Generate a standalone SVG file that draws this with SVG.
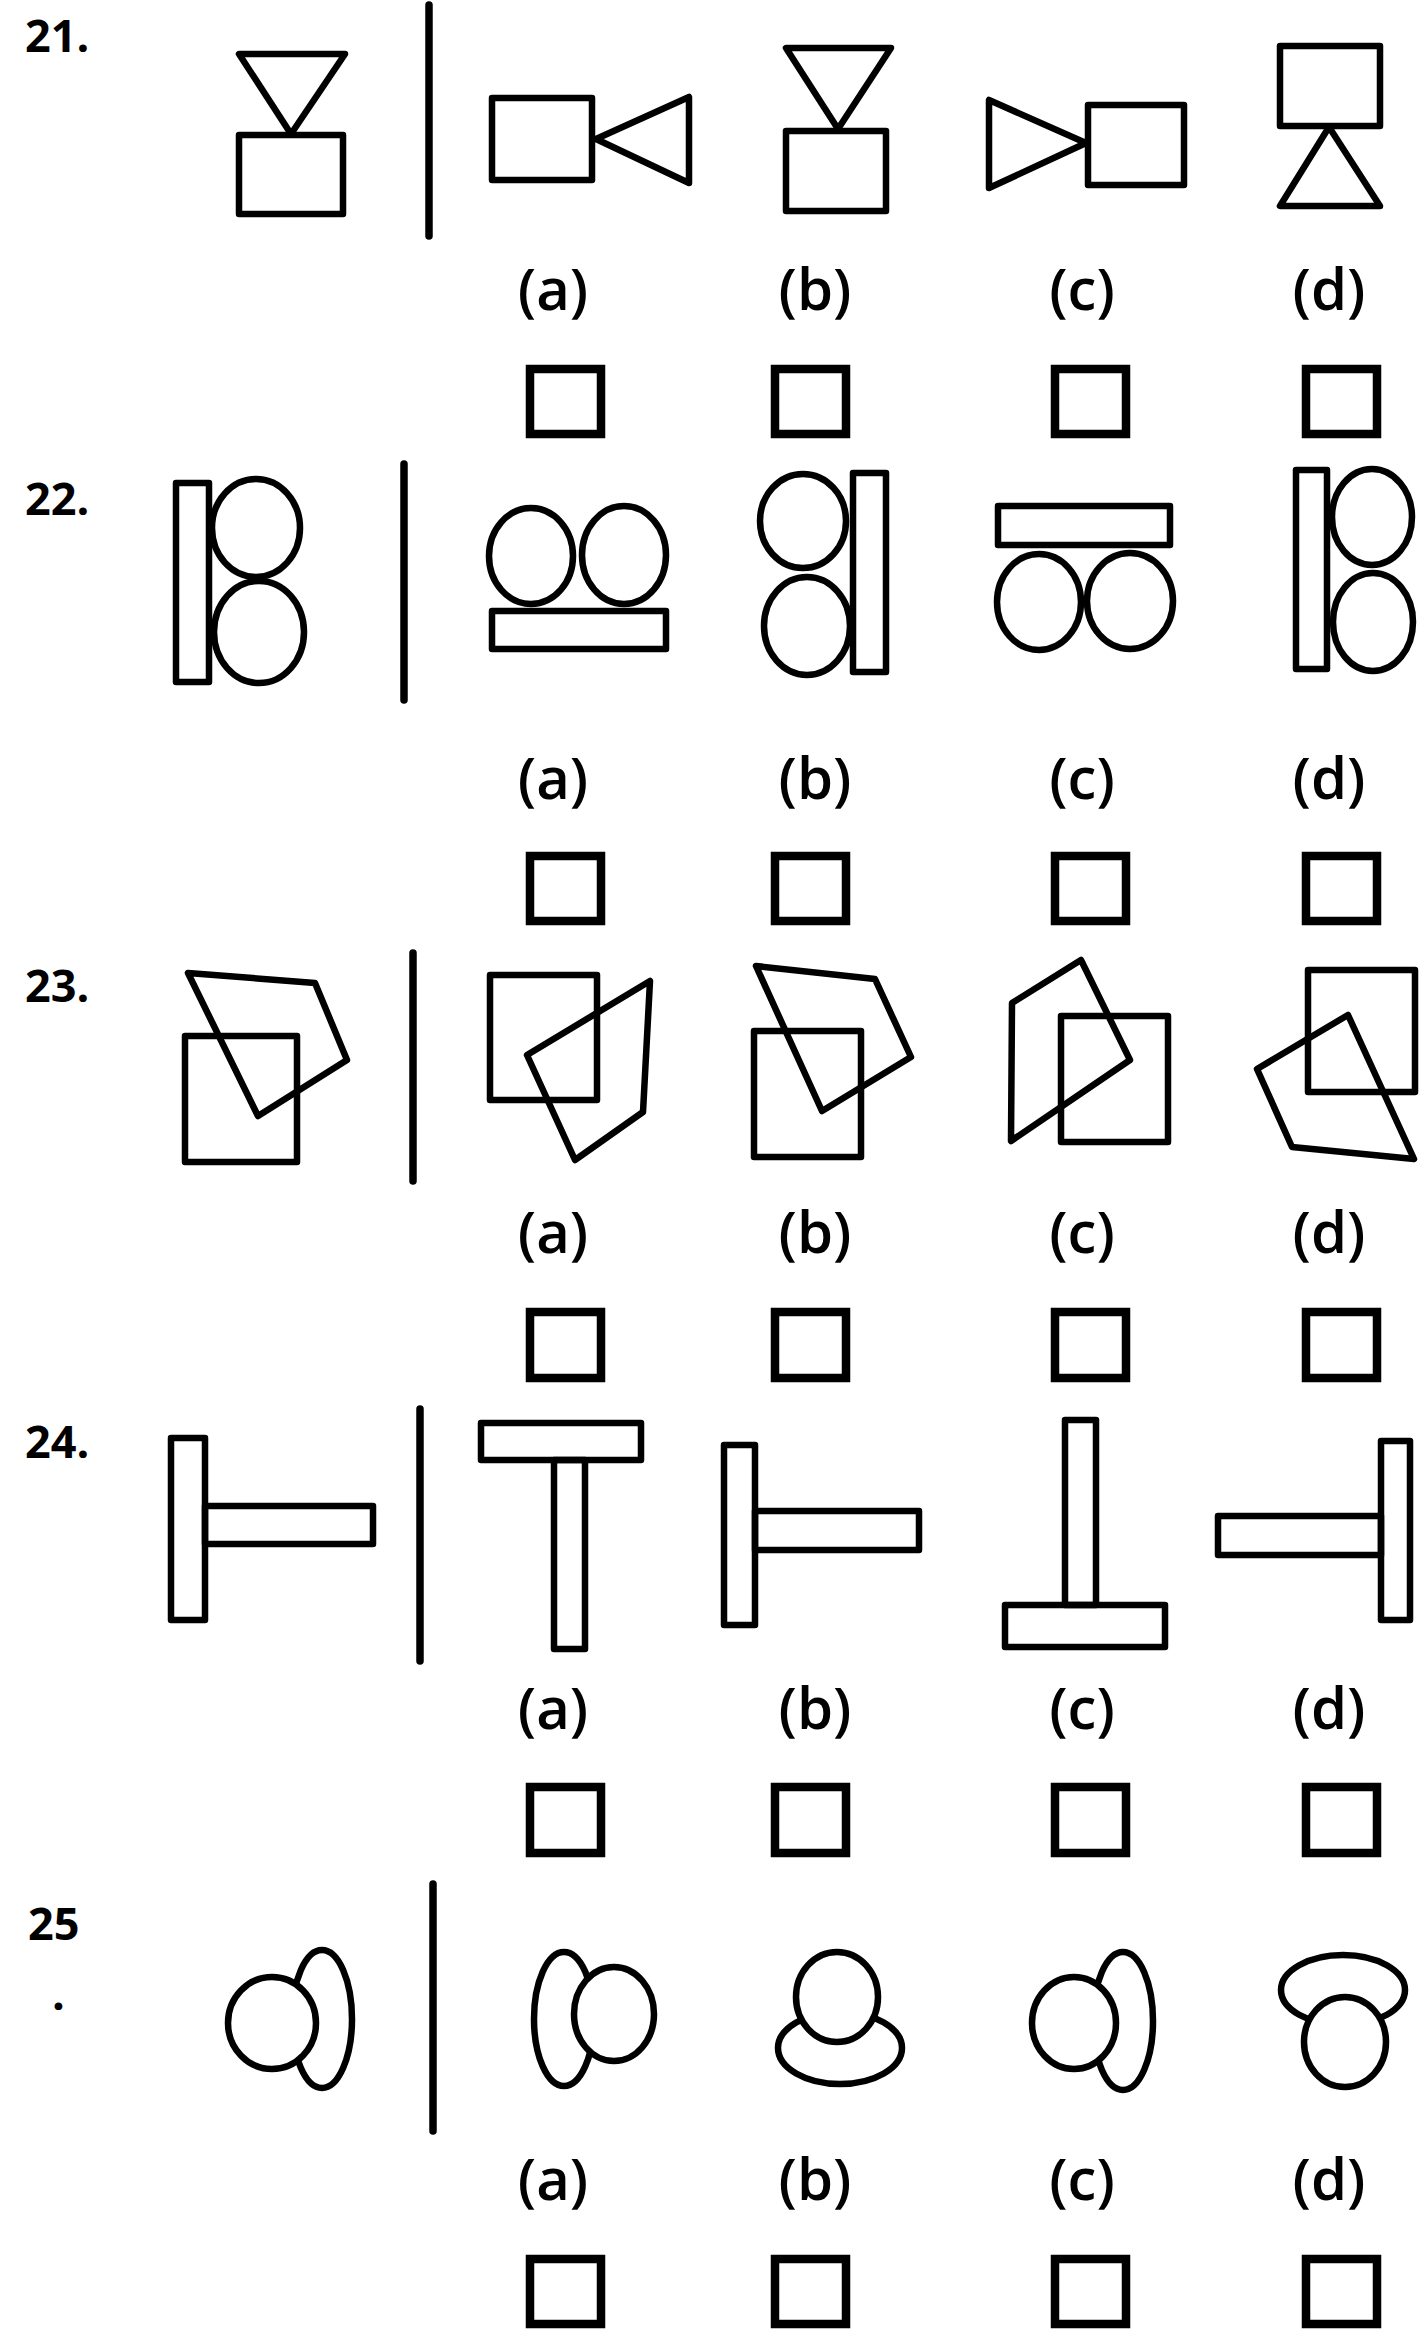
<svg xmlns="http://www.w3.org/2000/svg" width="1423" height="2339" viewBox="0 0 1423 2339">
<style>
.s{fill:none;stroke:#000;stroke-width:6.5;stroke-linejoin:round}
.w{fill:#fff;stroke:#000;stroke-width:6.5}
.div{stroke:#000;stroke-width:7.5;stroke-linecap:round}
.box{fill:none;stroke:#000;stroke-width:8.5}
.num{font-family:"Open Sans","Liberation Sans",sans-serif;font-weight:700;font-size:45px;fill:#000}
.lab{font-family:"Open Sans","Liberation Sans",sans-serif;font-weight:600;font-size:58px;fill:#000;text-anchor:middle}
</style>
<rect width="1423" height="2339" fill="#fff"/>

<g id="q21">
<text class="num" x="25" y="52">21.</text>
<g id="q21-fig"><polygon class="s" points="239,54 345,54 291,134"/><rect class="s" x="239" y="135" width="104" height="79"/></g>
<line class="div" x1="429" y1="5" x2="429" y2="236"/>
<g id="q21-a"><rect class="s" x="492" y="98" width="100" height="82"/><polygon class="s" points="689,97 689,183 596,139"/></g>
<g id="q21-b"><polygon class="s" points="786,48 891,48 838,129"/><rect class="s" x="786" y="131" width="100" height="80"/></g>
<g id="q21-c"><polygon class="s" points="989,100 989,188 1086,143"/><rect class="s" x="1088" y="105" width="96" height="80"/></g>
<g id="q21-d"><rect class="s" x="1280" y="46" width="100" height="80"/><polygon class="s" points="1329,127 1280,206 1380,206"/></g>
<text class="lab" x="553" y="310">(a)</text><text class="lab" x="815" y="310">(b)</text><text class="lab" x="1082" y="310">(c)</text><text class="lab" x="1329" y="310">(d)</text>
<rect class="box" x="530" y="369" width="71" height="65"/><rect class="box" x="775" y="369" width="71" height="65"/><rect class="box" x="1055" y="369" width="71" height="65"/><rect class="box" x="1306" y="369" width="71" height="65"/>
</g>

<g id="q22">
<text class="num" x="25" y="515">22.</text>
<g id="q22-fig"><rect class="s" x="176" y="483" width="33" height="199"/><ellipse class="s" cx="256" cy="528" rx="44" ry="49"/><ellipse class="s" cx="259" cy="632" rx="45" ry="51"/></g>
<line class="div" x1="404" y1="464" x2="404" y2="700"/>
<g id="q22-a"><ellipse class="s" cx="531" cy="556" rx="42" ry="48"/><ellipse class="s" cx="624" cy="555" rx="42" ry="49"/><rect class="s" x="492" y="611" width="174" height="38"/></g>
<g id="q22-b"><ellipse class="s" cx="803" cy="521" rx="43" ry="47"/><ellipse class="s" cx="807" cy="626" rx="43" ry="49"/><rect class="s" x="853" y="473" width="33" height="199"/></g>
<g id="q22-c"><rect class="s" x="998" y="506" width="172" height="39"/><ellipse class="s" cx="1039" cy="602" rx="42" ry="48"/><ellipse class="s" cx="1130" cy="601" rx="43" ry="48"/></g>
<g id="q22-d"><rect class="s" x="1296" y="470" width="31" height="199"/><ellipse class="s" cx="1372" cy="517" rx="40" ry="48"/><ellipse class="s" cx="1373" cy="622" rx="40" ry="49"/></g>
<text class="lab" x="553" y="799">(a)</text><text class="lab" x="815" y="799">(b)</text><text class="lab" x="1082" y="799">(c)</text><text class="lab" x="1329" y="799">(d)</text>
<rect class="box" x="530" y="856" width="71" height="65"/><rect class="box" x="775" y="856" width="71" height="65"/><rect class="box" x="1055" y="856" width="71" height="65"/><rect class="box" x="1306" y="856" width="71" height="65"/>
</g>

<g id="q23">
<text class="num" x="25" y="1002">23.</text>
<g id="q23-fig"><rect class="s" x="185" y="1036" width="112" height="126"/><polygon class="s" points="188,973 315,983 347,1060 258,1116"/></g>
<line class="div" x1="413" y1="953" x2="413" y2="1181"/>
<g id="q23-a"><rect class="s" x="490" y="975" width="107" height="125"/><polygon class="s" points="650,981 643,1112 575,1160 527,1055"/></g>
<g id="q23-b"><rect class="s" x="754" y="1031" width="107" height="126"/><polygon class="s" points="756,966 875,979 911,1057 822,1111"/></g>
<g id="q23-c"><rect class="s" x="1061" y="1016" width="107" height="126"/><polygon class="s" points="1081,960 1130,1060 1011,1141 1012,1003"/></g>
<g id="q23-d"><rect class="s" x="1308" y="970" width="107" height="122"/><polygon class="s" points="1348,1015 1414,1159 1292,1147 1257,1069"/></g>
<text class="lab" x="553" y="1253">(a)</text><text class="lab" x="815" y="1253">(b)</text><text class="lab" x="1082" y="1253">(c)</text><text class="lab" x="1329" y="1253">(d)</text>
<rect class="box" x="530" y="1312" width="71" height="66"/><rect class="box" x="775" y="1312" width="71" height="66"/><rect class="box" x="1055" y="1312" width="71" height="66"/><rect class="box" x="1306" y="1312" width="71" height="66"/>
</g>

<g id="q24">
<text class="num" x="25" y="1458">24.</text>
<g id="q24-fig"><rect class="s" x="171" y="1438" width="34" height="182"/><rect class="s" x="205" y="1506" width="168" height="38"/></g>
<line class="div" x1="420" y1="1409" x2="420" y2="1661"/>
<g id="q24-a"><rect class="s" x="481" y="1423" width="160" height="37"/><rect class="s" x="554" y="1460" width="31" height="189"/></g>
<g id="q24-b"><rect class="s" x="724" y="1445" width="31" height="180"/><rect class="s" x="755" y="1511" width="164" height="39"/></g>
<g id="q24-c"><rect class="s" x="1065" y="1420" width="31" height="185"/><rect class="s" x="1005" y="1605" width="160" height="42"/></g>
<g id="q24-d"><rect class="s" x="1381" y="1441" width="29" height="179"/><rect class="s" x="1218" y="1516" width="163" height="39"/></g>
<text class="lab" x="553" y="1729">(a)</text><text class="lab" x="815" y="1729">(b)</text><text class="lab" x="1082" y="1729">(c)</text><text class="lab" x="1329" y="1729">(d)</text>
<rect class="box" x="530" y="1787" width="71" height="66"/><rect class="box" x="775" y="1787" width="71" height="66"/><rect class="box" x="1055" y="1787" width="71" height="66"/><rect class="box" x="1306" y="1787" width="71" height="66"/>
</g>

<g id="q25">
<text class="num" x="28" y="1940">25</text>
<text class="num" x="52" y="2010">.</text>
<g id="q25-fig"><ellipse class="w" cx="322" cy="2019" rx="30" ry="69"/><ellipse class="w" cx="272" cy="2023" rx="44" ry="46"/></g>
<line class="div" x1="433" y1="1884" x2="433" y2="2131"/>
<g id="q25-a"><ellipse class="w" cx="564" cy="2019" rx="30" ry="67"/><ellipse class="w" cx="614" cy="2014" rx="40" ry="47"/></g>
<g id="q25-b"><ellipse class="w" cx="840" cy="2048" rx="62" ry="36"/><ellipse class="w" cx="837" cy="1997" rx="41" ry="45"/></g>
<g id="q25-c"><ellipse class="w" cx="1123" cy="2021" rx="30" ry="69"/><ellipse class="w" cx="1074" cy="2023" rx="42" ry="46"/></g>
<g id="q25-d"><ellipse class="w" cx="1343" cy="1990" rx="62" ry="35"/><ellipse class="w" cx="1345" cy="2042" rx="41" ry="45"/></g>
<text class="lab" x="553" y="2200">(a)</text><text class="lab" x="815" y="2200">(b)</text><text class="lab" x="1082" y="2200">(c)</text><text class="lab" x="1329" y="2200">(d)</text>
<rect class="box" x="530" y="2259" width="71" height="65"/><rect class="box" x="775" y="2259" width="71" height="65"/><rect class="box" x="1055" y="2259" width="71" height="65"/><rect class="box" x="1306" y="2259" width="71" height="65"/>
</g>
</svg>
